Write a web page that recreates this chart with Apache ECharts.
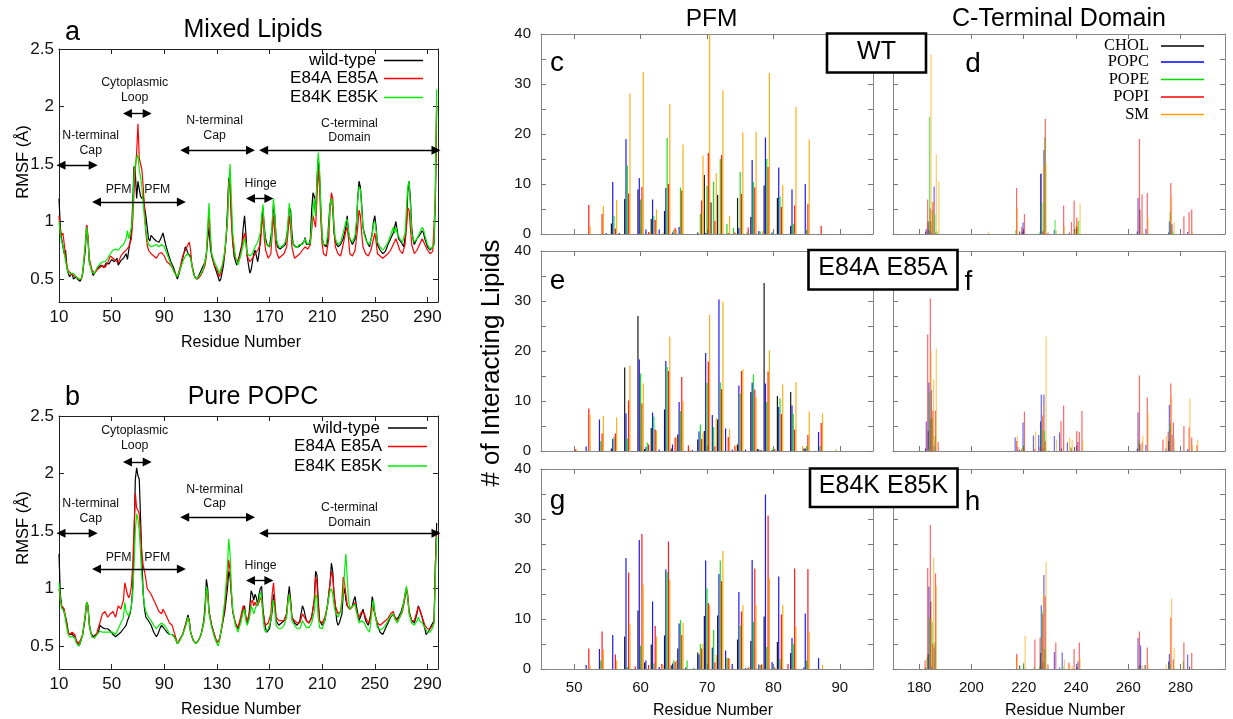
<!DOCTYPE html>
<html><head><meta charset="utf-8">
<script src="https://cdn.jsdelivr.net/npm/echarts@6/dist/echarts.min.js"></script>
<style>html,body{margin:0;padding:0;background:#fff}#c{width:1233px;height:719px}</style>
</head><body><div id="c"></div>
<script>
// ---------- labels / categories ----------
const rmsfNames = ['wild-type', 'E84A E85A', 'E84K E85K'];
const rmsfColors = ['#000000', '#ff0000', '#00ee00'];
const lipidNames = ['CHOL', 'POPC', 'POPE', 'POPI', 'SM'];
const lipidColors = ['#000000', '#0000ff', '#00dd00', '#ff0000', '#ffa500'];
const rmsfXTicks = [10, 50, 90, 130, 170, 210, 250, 290];
const rmsfYTicks = [0.5, 1, 1.5, 2, 2.5];
const pfmXTicks = [50, 60, 70, 80, 90];
const ctdXTicks = [180, 200, 220, 240, 260, 280];

// ---------- RMSF (residue, Å) : Mixed Lipids ----------
const mixedWT = [[10,1.2],[11,0.95],[12,0.85],[13,0.78],[14,0.72],[15,0.75],[16,0.6],[17,0.55],[18,0.52],[20,0.55],[21,0.5],[23,0.52],[24,0.5],[26,0.48],[27,0.5],[28,0.55],[30,0.75],[31,0.97],[32,0.85],[33,0.65],[35,0.57],[36,0.53],[38,0.57],[40,0.6],[42,0.62],[44,0.6],[46,0.64],[48,0.63],[50,0.67],[52,0.65],[54,0.68],[55,0.62],[57,0.66],[59,0.68],[61,0.72],[62,0.67],[63,0.75],[64,0.82],[65,0.9],[66,1.15],[67,1.48],[68,1.42],[69,1.2],[70,1.35],[71,1.28],[72,1.22],[73,1.2],[74,1.23],[75,1.12],[76,1.05],[77,0.95],[78,0.85],[79,0.83],[80,0.88],[82,0.85],[84,0.83],[86,0.82],[88,0.87],[89,0.9],[90,0.85],[91,0.8],[93,0.72],[95,0.65],[97,0.6],[99,0.53],[100,0.5],[102,0.58],[104,0.68],[106,0.78],[107,0.76],[108,0.72],[110,0.7],[111,0.62],[113,0.52],[115,0.5],[117,0.55],[119,0.6],[121,0.65],[122,0.72],[123,0.85],[124,0.95],[125,0.78],[126,0.7],[128,0.62],[130,0.55],[132,0.48],[133,0.5],[135,0.62],[137,0.85],[138,1.1],[139,1.38],[140,1.3],[141,1.05],[142,0.85],[143,0.7],[145,0.62],[147,0.7],[149,0.8],[150,0.95],[151,1.05],[152,0.9],[153,0.7],[154,0.62],[155,0.55],[156,0.58],[157,0.65],[158,0.72],[159,0.75],[160,0.7],[161,0.65],[162,0.72],[163,0.85],[164,1.0],[165,1.12],[166,0.95],[167,0.85],[168,0.8],[170,0.78],[172,0.95],[173,1.15],[174,1.05],[175,0.85],[176,0.78],[178,0.76],[180,0.78],[182,0.8],[184,0.95],[185,1.12],[186,1.1],[187,0.9],[188,0.8],[190,0.78],[192,0.78],[194,0.8],[196,0.82],[197,0.86],[198,0.8],[200,0.8],[201,0.85],[202,1.1],[203,1.25],[204,1.22],[205,1.05],[206,1.35],[207,1.55],[208,1.4],[209,1.1],[210,0.85],[211,0.8],[213,0.78],[214,0.82],[215,1.0],[216,1.15],[217,1.2],[218,1.12],[219,0.9],[220,0.82],[222,0.78],[224,0.8],[226,0.85],[228,0.95],[229,1.05],[230,0.9],[231,0.85],[233,0.8],[235,0.85],[236,0.95],[237,1.2],[238,1.35],[239,1.3],[240,1.15],[241,0.95],[242,0.9],[244,0.82],[246,0.78],[248,0.9],[249,1.0],[250,1.05],[251,0.95],[252,0.8],[254,0.75],[256,0.72],[258,0.74],[260,0.8],[262,0.85],[264,0.9],[265,0.95],[266,1.0],[267,0.92],[268,0.85],[270,0.82],[272,0.78],[274,0.95],[275,1.25],[276,1.35],[277,1.2],[278,0.95],[279,0.85],[280,0.8],[282,0.85],[284,0.88],[286,0.92],[287,0.9],[288,0.85],[290,0.78],[292,0.75],[294,0.78],[295,0.8],[296,1.2],[297,2.0]];
const mixedE84A = [[10,1.05],[11,0.9],[12,0.88],[13,0.9],[14,0.8],[15,0.7],[16,0.62],[17,0.57],[19,0.55],[21,0.53],[23,0.52],[25,0.5],[27,0.5],[28,0.55],[30,0.8],[31,0.97],[32,0.88],[33,0.68],[35,0.58],[37,0.55],[39,0.58],[41,0.6],[43,0.62],[45,0.6],[47,0.64],[49,0.7],[51,0.68],[53,0.66],[55,0.64],[57,0.7],[59,0.73],[61,0.75],[63,0.78],[65,0.85],[66,1.0],[67,1.25],[68,1.45],[69,1.6],[70,1.85],[71,1.55],[72,1.5],[73,1.45],[74,1.3],[75,1.1],[76,0.9],[77,0.8],[78,0.75],[80,0.72],[82,0.7],[84,0.68],[86,0.72],[88,0.73],[90,0.7],[92,0.65],[94,0.63],[96,0.6],[98,0.55],[100,0.52],[102,0.6],[104,0.7],[106,0.75],[108,0.8],[109,0.82],[110,0.75],[111,0.62],[113,0.52],[115,0.5],[117,0.52],[119,0.56],[121,0.62],[122,0.7],[123,0.9],[124,1.1],[125,0.85],[126,0.72],[128,0.62],[130,0.58],[132,0.52],[134,0.6],[136,0.72],[138,1.0],[139,1.35],[140,1.32],[141,1.0],[142,0.8],[144,0.68],[146,0.65],[148,0.72],[150,0.85],[151,0.9],[152,0.82],[153,0.7],[155,0.65],[157,0.68],[159,0.72],[161,0.75],[163,0.8],[164,0.95],[165,1.05],[166,0.85],[167,0.75],[169,0.68],[171,0.72],[172,0.9],[173,1.05],[174,0.9],[175,0.75],[177,0.68],[179,0.7],[181,0.72],[183,0.78],[184,0.9],[185,1.05],[186,0.95],[187,0.78],[189,0.68],[191,0.7],[193,0.72],[195,0.75],[197,0.78],[199,0.76],[201,0.8],[203,1.05],[204,1.0],[205,0.95],[206,1.2],[207,1.45],[208,1.3],[209,1.0],[210,0.8],[211,0.72],[213,0.7],[215,0.85],[216,1.1],[217,1.25],[218,1.2],[219,0.95],[220,0.78],[222,0.72],[224,0.7],[226,0.8],[228,0.92],[229,0.95],[230,0.85],[231,0.72],[233,0.7],[235,0.75],[237,0.95],[238,1.1],[239,1.05],[240,0.9],[241,0.78],[243,0.72],[245,0.7],[247,0.75],[249,0.85],[250,0.9],[251,0.82],[252,0.72],[254,0.7],[256,0.68],[258,0.7],[260,0.72],[262,0.75],[264,0.8],[266,0.85],[267,0.82],[269,0.75],[271,0.72],[273,0.8],[274,0.95],[275,1.12],[276,1.1],[277,0.95],[278,0.8],[280,0.72],[282,0.75],[284,0.8],[286,0.85],[288,0.8],[290,0.75],[292,0.72],[294,0.74],[295,0.75],[296,1.2],[297,2.05]];
const mixedE84K = [[10,1.0],[11,0.9],[12,0.82],[13,0.8],[14,0.72],[15,0.65],[16,0.6],[17,0.55],[19,0.55],[21,0.55],[23,0.52],[25,0.5],[27,0.5],[28,0.56],[30,0.8],[31,0.95],[32,0.85],[33,0.65],[35,0.56],[37,0.55],[39,0.6],[41,0.63],[43,0.65],[45,0.65],[47,0.68],[49,0.72],[51,0.75],[53,0.76],[55,0.75],[57,0.78],[59,0.8],[61,0.85],[62,0.92],[63,0.85],[64,0.9],[65,0.95],[66,1.05],[67,1.4],[68,1.5],[69,1.55],[70,1.58],[71,1.45],[72,1.38],[73,1.3],[74,1.15],[75,1.02],[76,0.92],[77,0.85],[78,0.8],[80,0.78],[82,0.79],[84,0.8],[86,0.78],[88,0.8],[90,0.78],[92,0.72],[94,0.66],[96,0.6],[98,0.55],[100,0.52],[102,0.58],[104,0.65],[106,0.7],[108,0.72],[110,0.68],[112,0.55],[114,0.5],[116,0.52],[118,0.55],[120,0.6],[122,0.72],[123,0.95],[124,1.16],[125,0.9],[126,0.72],[128,0.65],[130,0.6],[132,0.55],[134,0.62],[136,0.75],[138,1.0],[139,1.3],[140,1.5],[141,1.2],[142,0.9],[144,0.7],[146,0.62],[148,0.7],[150,0.8],[151,0.85],[152,0.8],[153,0.72],[155,0.7],[157,0.72],[159,0.78],[161,0.82],[163,0.9],[164,1.05],[165,1.15],[166,0.92],[167,0.82],[169,0.78],[171,0.8],[172,1.0],[173,1.2],[174,1.05],[175,0.85],[177,0.78],[179,0.78],[181,0.8],[183,0.85],[184,1.0],[185,1.16],[186,1.05],[187,0.85],[189,0.78],[191,0.78],[193,0.8],[195,0.8],[197,0.85],[199,0.8],[201,0.82],[203,1.1],[204,1.2],[205,1.05],[206,1.35],[207,1.6],[208,1.45],[209,1.1],[210,0.88],[211,0.8],[213,0.8],[215,0.95],[216,1.15],[217,1.2],[218,1.15],[219,0.95],[220,0.85],[222,0.8],[224,0.82],[226,0.9],[228,1.0],[229,1.02],[230,0.92],[231,0.85],[233,0.82],[235,0.88],[236,1.0],[237,1.2],[238,1.3],[239,1.28],[240,1.12],[241,0.95],[242,0.88],[244,0.82],[246,0.8],[248,0.88],[249,0.98],[250,1.0],[251,0.92],[252,0.82],[254,0.78],[256,0.75],[258,0.78],[260,0.82],[262,0.88],[264,0.95],[265,0.9],[266,0.95],[267,0.9],[269,0.85],[271,0.82],[273,0.9],[274,1.1],[275,1.3],[276,1.35],[277,1.15],[278,0.9],[280,0.82],[282,0.85],[284,0.9],[286,0.95],[287,0.93],[288,0.88],[290,0.8],[292,0.76],[294,0.78],[295,0.8],[296,1.3],[297,2.15]];

// ---------- RMSF : Pure POPC ----------
const popcWT = [[10,1.3],[11,0.95],[12,0.85],[13,0.83],[14,0.82],[15,0.75],[16,0.7],[17,0.62],[18,0.6],[20,0.6],[22,0.58],[23,0.55],[25,0.5],[26,0.52],[28,0.6],[30,0.75],[31,0.88],[32,0.85],[33,0.7],[34,0.62],[36,0.58],[38,0.6],[40,0.62],[41,0.68],[43,0.66],[45,0.65],[47,0.65],[49,0.63],[51,0.6],[53,0.58],[55,0.6],[57,0.62],[59,0.65],[61,0.68],[62,0.72],[63,0.75],[64,0.78],[65,0.85],[66,1.0],[67,1.4],[68,1.95],[69,2.05],[70,1.98],[71,1.95],[72,1.6],[73,1.25],[74,0.95],[75,0.82],[76,0.75],[78,0.72],[80,0.68],[82,0.62],[84,0.58],[85,0.6],[87,0.66],[88,0.68],[90,0.65],[92,0.62],[94,0.6],[96,0.6],[98,0.58],[100,0.52],[102,0.56],[104,0.6],[106,0.68],[108,0.77],[109,0.72],[110,0.62],[112,0.55],[114,0.52],[116,0.55],[118,0.6],[120,0.72],[121,0.85],[122,1.08],[123,1.0],[124,0.8],[126,0.68],[128,0.6],[130,0.53],[131,0.52],[132,0.56],[134,0.68],[136,0.8],[138,1.0],[139,1.15],[140,1.1],[141,0.95],[142,0.8],[144,0.7],[146,0.65],[148,0.72],[150,0.82],[151,0.85],[152,0.75],[153,0.7],[154,0.72],[155,0.85],[156,0.98],[157,0.95],[158,0.9],[159,0.95],[160,0.92],[161,0.85],[162,0.95],[163,1.0],[164,1.02],[165,0.82],[166,0.72],[167,0.65],[168,0.62],[170,0.65],[172,0.8],[173,0.95],[174,0.85],[175,0.72],[177,0.68],[179,0.7],[181,0.72],[183,0.78],[184,0.92],[185,1.02],[186,0.9],[187,0.75],[189,0.7],[191,0.68],[193,0.72],[195,0.85],[196,0.82],[198,0.72],[200,0.7],[202,0.75],[204,0.9],[205,1.15],[206,1.12],[207,0.9],[208,0.72],[210,0.68],[212,0.72],[214,0.85],[216,1.05],[217,1.22],[218,1.15],[219,0.95],[220,0.85],[221,0.72],[222,0.68],[223,0.7],[225,0.78],[226,0.95],[227,1.0],[228,0.9],[229,0.85],[231,0.82],[233,0.85],[234,0.9],[235,0.93],[236,0.85],[238,0.72],[240,0.78],[241,0.82],[243,0.72],[245,0.68],[247,0.78],[248,0.93],[249,0.88],[250,0.78],[252,0.68],[254,0.62],[256,0.6],[258,0.65],[260,0.7],[262,0.75],[264,0.78],[265,0.78],[266,0.73],[268,0.75],[270,0.8],[272,0.88],[273,0.95],[274,1.0],[275,0.92],[276,0.8],[278,0.72],[280,0.7],[282,0.78],[283,0.85],[284,0.82],[286,0.75],[288,0.65],[289,0.6],[291,0.63],[293,0.68],[295,0.72],[296,1.2],[297,1.57]];
const popcE84A = [[10,1.0],[11,0.9],[12,0.85],[13,0.84],[14,0.82],[15,0.75],[16,0.68],[17,0.62],[18,0.6],[20,0.62],[22,0.6],[23,0.55],[25,0.52],[26,0.52],[28,0.6],[30,0.78],[31,0.88],[32,0.85],[33,0.68],[35,0.58],[37,0.57],[39,0.62],[41,0.7],[43,0.78],[45,0.8],[47,0.75],[49,0.78],[51,0.8],[53,0.75],[55,0.85],[57,0.82],[59,0.9],[60,1.05],[61,1.0],[62,0.95],[63,0.92],[64,0.95],[65,1.02],[66,1.2],[67,1.5],[68,1.83],[69,1.7],[70,1.68],[71,1.65],[72,1.45],[73,1.3],[74,1.2],[75,1.15],[76,1.08],[77,1.0],[78,1.0],[80,0.95],[82,0.9],[84,0.85],[86,0.8],[88,0.78],[89,0.82],[90,0.8],[92,0.75],[94,0.7],[96,0.68],[98,0.6],[100,0.52],[102,0.56],[104,0.6],[106,0.68],[108,0.75],[109,0.72],[110,0.62],[112,0.55],[114,0.52],[116,0.55],[118,0.6],[120,0.7],[121,0.8],[122,1.0],[123,0.95],[124,0.8],[126,0.68],[128,0.6],[130,0.53],[131,0.52],[132,0.56],[134,0.68],[136,0.85],[138,1.1],[139,1.25],[140,1.15],[141,0.95],[142,0.8],[144,0.7],[146,0.66],[148,0.75],[150,0.85],[151,0.86],[152,0.75],[153,0.72],[155,0.8],[156,0.88],[157,0.9],[158,0.85],[159,0.88],[160,0.85],[162,0.88],[163,0.92],[164,0.9],[165,0.8],[166,0.72],[167,0.68],[169,0.7],[171,0.78],[172,0.95],[173,1.05],[174,0.9],[175,0.75],[177,0.72],[179,0.72],[181,0.72],[183,0.78],[184,0.9],[185,0.95],[186,0.88],[187,0.75],[189,0.72],[191,0.7],[193,0.7],[195,0.78],[196,0.76],[198,0.72],[200,0.7],[202,0.75],[204,0.9],[205,1.1],[206,1.05],[207,0.85],[208,0.72],[210,0.7],[212,0.75],[214,0.85],[215,0.95],[216,1.05],[217,1.15],[218,1.1],[219,0.95],[220,0.85],[222,0.78],[224,0.8],[225,0.9],[226,1.1],[227,1.05],[228,0.95],[229,0.85],[231,0.82],[233,0.84],[235,0.88],[236,0.8],[238,0.75],[240,0.8],[242,0.78],[244,0.72],[246,0.7],[248,0.85],[249,0.85],[250,0.78],[252,0.7],[254,0.68],[256,0.7],[258,0.72],[260,0.74],[262,0.78],[264,0.8],[265,0.76],[267,0.72],[269,0.75],[271,0.8],[273,0.92],[274,1.0],[275,0.95],[276,0.8],[278,0.72],[280,0.72],[282,0.8],[283,0.84],[284,0.82],[286,0.75],[288,0.68],[290,0.65],[292,0.65],[294,0.68],[295,0.7],[296,1.2],[297,1.5]];
const popcE84K = [[10,1.05],[11,0.9],[12,0.83],[13,0.82],[14,0.8],[15,0.72],[16,0.65],[17,0.6],[18,0.58],[20,0.58],[22,0.57],[23,0.53],[25,0.5],[26,0.52],[28,0.6],[30,0.78],[31,0.88],[32,0.85],[33,0.68],[35,0.58],[37,0.57],[39,0.6],[41,0.63],[43,0.62],[45,0.62],[47,0.62],[49,0.62],[51,0.62],[53,0.6],[55,0.65],[57,0.7],[59,0.75],[60,0.88],[61,0.8],[62,0.78],[63,0.76],[64,0.8],[65,0.85],[66,0.95],[67,1.2],[68,1.5],[69,1.65],[70,1.6],[71,1.5],[72,1.3],[73,1.1],[74,0.95],[75,0.85],[76,0.8],[78,0.75],[80,0.72],[82,0.68],[84,0.65],[86,0.68],[88,0.7],[90,0.68],[92,0.65],[94,0.6],[96,0.6],[98,0.57],[100,0.52],[102,0.55],[104,0.6],[106,0.66],[108,0.75],[109,0.7],[110,0.62],[112,0.55],[114,0.52],[116,0.55],[118,0.6],[120,0.7],[121,0.8],[122,1.02],[123,0.95],[124,0.78],[126,0.66],[128,0.58],[130,0.52],[131,0.5],[132,0.55],[134,0.7],[136,0.9],[138,1.2],[139,1.43],[140,1.3],[141,1.0],[142,0.82],[144,0.68],[146,0.62],[148,0.7],[150,0.8],[151,0.82],[152,0.72],[153,0.68],[155,0.76],[156,0.85],[157,0.82],[158,0.78],[159,0.82],[160,0.85],[162,0.9],[163,0.97],[164,0.92],[165,0.75],[166,0.65],[167,0.62],[169,0.65],[171,0.72],[172,0.85],[173,0.9],[174,0.8],[175,0.68],[177,0.65],[179,0.65],[181,0.68],[183,0.75],[184,0.88],[185,0.95],[186,0.85],[187,0.72],[189,0.68],[191,0.65],[193,0.65],[195,0.72],[196,0.7],[198,0.66],[200,0.66],[202,0.7],[204,0.8],[205,0.95],[206,0.92],[207,0.75],[208,0.66],[210,0.65],[212,0.72],[214,0.85],[215,0.92],[216,0.98],[217,1.0],[218,0.95],[219,0.85],[220,0.8],[222,0.75],[224,0.8],[226,0.95],[227,1.15],[228,1.3],[229,1.1],[230,0.9],[231,0.82],[233,0.85],[235,0.86],[236,0.8],[238,0.7],[240,0.72],[242,0.7],[244,0.65],[246,0.62],[248,0.82],[249,0.9],[250,0.78],[252,0.66],[254,0.64],[256,0.65],[258,0.68],[260,0.72],[262,0.76],[264,0.78],[265,0.74],[267,0.7],[269,0.75],[271,0.82],[273,0.95],[274,1.02],[275,0.92],[276,0.78],[278,0.7],[280,0.68],[282,0.72],[283,0.75],[284,0.72],[286,0.7],[288,0.66],[290,0.62],[292,0.62],[294,0.66],[295,0.7],[296,1.1],[297,1.45]];

// ---------- interacting lipids: rows [residue, CHOL, POPC, POPE, POPI, SM] ----------
const wtPFM = [[52,0,0,0,5.8,1.6],[54,0,0,0,4.0,5.6],[55,0,0.2,0,0,0],[56,2.1,10.4,3.6,1.1,6.8],[57,0,0.2,0,0,0],[58,7.0,19.0,13.7,8.1,28.1],[60,8.9,11.2,6.9,9.4,32.4],[61,0,0.9,0,0.4,0.5],[62,3.0,6.9,3.6,2.8,4.9],[63,0,0.9,0,0,0.3],[64,4.6,9.2,19.2,10.0,26.0],[65,0,0.3,0.8,1.2,0.9],[66,0,1.4,9.3,8.7,17.9],[69,0.3,0,4.1,6.7,15.7],[70,11.8,0.2,9.6,16.2,40],[71,6.3,0,10.5,2.6,12.2],[72,7.8,0,15.0,15.8,28.7],[73,0,0,2.0,0.2,3.6],[74,0,0,1.2,0.3,0],[75,7.2,1.2,12.4,8.0,20.3],[76,0,0,0.3,1.3,0],[77,3.4,14.8,10.4,9.3,20.4],[78,0,0.6,0.5,0,0.6],[79,9.7,19.3,15.0,13.4,32.2],[80,0,0.3,0.2,0,0],[81,7.2,13.3,7.5,5.4,9.8],[83,1.6,8.9,2.0,5.7,25.4],[85,0,10.0,0.9,6.0,18.9],[87,0,0,0,1.6,0]];
const e84aPFM = [[50,0,0,0,0.3,0.3],[52,0,0.9,0,8.5,7.3],[54,0,6.3,2.0,3.5,7.0],[56,0.5,2.4,2.8,3.5,6.7],[58,16.7,7.5,2.5,10.1,17.1],[60,27,18.3,15.5,9.5,13.5],[61,0.4,0.8,1.7,1.3,0],[62,4.6,7.7,6.9,4.3,4.1],[63,0,0.3,0,0,0],[64,8.3,18,16.8,16,22.9],[65,0.5,1.3,0,2.7,2.7],[66,3.3,9.8,8,14.8,10],[67,0,0,0,1.1,0.3],[68,0,0.2,0,0,0],[69,2.3,3.9,5.3,2.4,3.7],[70,4.0,19.6,13.6,17.9,27.2],[71,0,7.2,4.8,0.9,6.6],[72,6.3,30.3,13.7,12.4,29.9],[73,0,4.5,0,2.8,4.4],[74,0,0.3,0,1.0,1.3],[75,1.3,13.1,11.5,16,16.4],[76,0,0.3,0,0,0],[77,11.8,13.7,15.3,12.3,10.8],[78,0.4,0.3,0.2,0.2,0],[79,33.6,13.5,9.8,15.9,20.1],[80,0,0.2,0.7,0.4,0],[81,11,8.8,10.5,7.4,13.3],[83,11.8,9.1,7.4,4.3,13.8],[84,0,0,0,0,1.0],[85,0.5,0.5,1.0,3.2,7.9],[87,0,3.8,1.0,5.6,7.5],[89,0,0,0,0,0.3]];
const e84kPFM = [[52,0,0.8,0,4.1,0.6],[54,0,4.0,1.7,7.5,3.9],[56,0,6.8,0,2.9,1.7],[58,6.5,22.2,0.4,19.3,8.9],[59,0,0,0,0.5,0],[60,11.7,25.8,4.7,27,16.9],[61,1.3,1.7,0,0.8,0],[62,4.9,13.5,1.1,8.6,6.5],[63,0,0.4,0,1.0,0.8],[64,6.7,19.9,19.4,25.5,17.8],[65,0.7,1.1,1.7,1.4,1.7],[66,4.1,9.1,9.8,6.8,9.2],[67,0,0.3,1.7,0,0],[68,0,0,0.2,0,0],[69,3.3,2.9,5.0,4.1,5.1],[70,10.6,21.7,16.1,13.2,12.8],[71,0,4.3,7.8,1.3,2.8],[72,10.7,19,21.7,17.6,23.6],[73,0,3.7,2.2,2.2,2.0],[74,0,1.0,0,0,0],[75,5.9,15.4,8.7,11.5,12.8],[76,0,0.2,0,0.3,0.3],[77,5.6,21.8,9.5,20.1,12.8],[78,0,0.9,0.8,0.9,0.9],[79,10.5,34.9,4.4,30.7,18.1],[80,0,1.4,0.3,0.3,0],[81,5.4,18.5,2.0,10.9,12.8],[82,0,0,0,1.0,0],[83,3.2,6.2,5.0,20.1,8.5],[85,0.3,11.1,1.7,20,7.3],[87,0,2.2,0,0,0.8]];
const wtCTD = [[183,0.5,1.0,0,6.9,0],[184,2.5,0.7,23.4,5.1,35.9],[185,2.5,0.3,4.8,6.4,6.5],[186,0,9.5,3.9,0.3,15.9],[187,0,0,0.5,0,10.5],[206,0,0,0,0,0.5],[217,0,0,0.8,9.2,5.2],[219,0.5,0,0,1.4,0],[220,0.5,2.3,0,4.0,0],[226,0,0,0.3,0,0],[227,12,12.1,6.2,0.5,13.5],[228,0.5,16.8,19.3,23,14.3],[229,0,0,0,0.3,0],[232,0,0.8,2.8,0,0.7],[235,0,0,0,5.7,1.5],[238,0.3,0,0,2.4,0],[239,0,0,0,6.7,0.5],[240,1.0,0,1.5,3.3,2.5],[241,1.5,0,2.7,0,6.1],[264,0.5,7.2,0,19,0],[265,4.9,0,0,7.9,0.5],[267,0,1.0,0,8.2,3.3],[276,0.3,2.5,4.3,10.2,7.6],[277,1.8,2.0,0.5,0,2.3],[281,0,0,0,3.5,0],[283,0,0.4,0,4.4,0],[284,0,0,0,4.9,0.4]];
const e84aCTD = [[183,0.5,5.9,0,23.3,0.3],[184,4.0,13.7,11.7,30.5,20],[185,6.5,12.2,6.5,8.1,14.3],[186,0,1.0,3.0,8.1,20.5],[187,0,0,0,1.8,0],[217,0,2.7,0,2.0,3.0],[218,0,0.8,0,0,0],[219,0.3,0,0,0.5,0.7],[220,0,5.7,1.2,7.9,0],[224,0,3.1,0,0.4,3.9],[226,0,3.2,0,0.8,0],[227,5.9,11.3,4.3,7.1,9.3],[228,0.5,11.3,4.0,2.0,22.9],[229,0,0,0,0,0.2],[232,0,3.0,0,0,2.3],[234,0,3.7,0,6.0,0],[235,0.5,0,0,9.1,0],[237,0,1.7,0,0,2.7],[238,0,0,0.8,0.5,2.3],[240,0.8,0,0,4.0,0],[241,0,1.8,0,3.8,0],[242,0,0,0,8.0,2.0],[264,0.5,7.7,2.1,15.1,0],[265,1.3,0,0,1.7,3.1],[267,0,1.2,0,10.7,7.6],[273,0,0,0,2.3,0],[274,0,0,0,0,3.0],[275,0.5,0,0,3.9,0],[276,2.0,9.2,5.5,13.5,11.1],[277,0,3.2,0,5.7,2.5],[281,0,0,0,5.0,0],[283,0,0.4,0,4.7,10.5],[284,0,0,0,2.7,1.2],[286,0,0,0,1.2,2.2]];
const e84kCTD = [[182,0,0,0,1.7,0],[183,0.3,0,2.3,20.2,0],[184,3.0,16.5,10.3,28.8,10.2],[185,13.5,0.5,9.5,5,22.3],[186,0,4.3,5.3,19.1,16.7],[217,0,0,0,3.0,2.7],[219,0.7,0,0,0,0],[220,0,0,1.3,0,6.7],[224,0,0,0.5,5.9,0],[226,0,0,0.5,6.3,0],[227,3.2,12.7,11.7,11,15],[228,1.3,18.8,4,14.5,21.5],[229,0,0,0,0.9,0],[232,0,3.4,0,5.3,0],[234,0,0.3,0,0,0],[235,0,3.3,0.5,0,1.9],[237,0,0,0,1.3,0.9],[238,0,0,0,0,0.6],[239,0,0,0,4.0,0],[241,0.3,1.5,0,5.3,2.3],[264,0,6.2,0.5,7.5,0],[265,0.8,4.7,0,0,0.7],[267,0.8,0,0,4.3,1.1],[274,0,0,0,0,0.9],[276,1.5,3.0,1.0,10.3,14.1],[277,0,0,0,1.9,4.3],[281,0,0,1.5,5.3,0],[283,0,2.9,0,0,0],[284,0.5,0,0,3.2,0]];

// ---------- annotations (text, residue, RMSF) and arrows (from, to, RMSF) ----------
const annotMixed = [['Cytoplasmic\nLoop',67.5,2.14],['N-terminal\nCap',34.1,1.68],['PFM',55.3,1.28],['PFM',84.7,1.28],['N-terminal\nCap',128.2,1.81],['C-terminal\nDomain',230.7,1.79],['Hinge',163.2,1.33]];
const arrowsMixed = [[62,77,1.94],[11.5,36,1.49],[38.5,103,1.17],[105.5,155.5,1.62],[165.5,296.5,1.62],[155.5,169.5,1.2]];
const annotPopc = [['Cytoplasmic\nLoop',67.5,2.31],['N-terminal\nCap',34.1,1.67],['PFM',55.3,1.27],['PFM',84.7,1.27],['N-terminal\nCap',128.2,1.8],['C-terminal\nDomain',230.7,1.64],['Hinge',163.2,1.2]];
const arrowsPopc = [[62,77,2.1],[11.5,36,1.48],[38.5,103,1.17],[105.5,155.5,1.62],[165.5,296.5,1.48],[155.5,169.5,1.07]];

// ---------- build ----------
const SANS = '"Liberation Sans", Arial, Helvetica, sans-serif';
const SERIF = '"Liberation Serif", "Times New Roman", serif';
const chart = echarts.init(document.getElementById('c'), null, {renderer: 'canvas', width: 1233, height: 719});
const option = {animation: false, backgroundColor: '#ffffff', grid: [], xAxis: [], yAxis: [], series: [], graphic: []};

function addPanel(p) {
  const gi = option.grid.length;
  option.grid.push({left: p.left, top: p.top, width: p.width, height: p.height, show: false});
  const xi = option.xAxis.length, yi = option.yAxis.length;
  const ls = {color: p.frame, width: 1};
  const ts = {color: p.tick, width: 1};
  const mkX = (pos, lab) => ({
    type: 'value', gridIndex: gi, position: pos, min: p.xMin, max: p.xMax,
    axisLine: {show: true, onZero: false, lineStyle: ls},
    axisTick: {show: true, inside: true, length: 5, lineStyle: ts, customValues: p.xTicks},
    axisLabel: {show: lab, customValues: p.xTicks, margin: p.xMargin, fontSize: p.fs, color: '#111', fontFamily: SANS},
    splitLine: {show: false}
  });
  option.xAxis.push(mkX('bottom', p.xLabels), mkX('top', false));
  const mkY = (pos, lab) => {
    const a = {
      type: 'value', gridIndex: gi, position: pos, min: p.yMin, max: p.yMax,
      axisLine: {show: true, onZero: false, lineStyle: ls},
      axisTick: {show: true, inside: true, length: 5, lineStyle: ts},
      axisLabel: {show: lab, margin: p.yMargin, fontSize: p.fs, color: '#111', fontFamily: SANS},
      splitLine: {show: false}
    };
    if (p.yTicks) { a.axisTick.customValues = p.yTicks; a.axisLabel.customValues = p.yTicks; }
    else { a.interval = p.yInterval; a.axisLabel.formatter = v => (v % p.yLabelStep === 0 ? String(v) : ''); }
    return a;
  };
  option.yAxis.push(mkY('left', p.yLabels), mkY('right', false));
  return {xi, yi};
}

function addRmsf(top, lines, arrows) {
  const ax = addPanel({left: 59, top: top, width: 379, height: 253, xMin: 10, xMax: 298, xTicks: rmsfXTicks,
    yMin: 0.3, yMax: 2.5, yTicks: rmsfYTicks, xLabels: true, yLabels: true, frame: '#222', tick: '#222',
    fs: 17, xMargin: 7, yMargin: 5});
  lines.forEach((d, k) => {
    const s = {type: 'line', name: rmsfNames[k], xAxisIndex: ax.xi, yAxisIndex: ax.yi, data: d,
      symbol: 'none', showSymbol: false, silent: true, z: 2 + k,
      lineStyle: {color: rmsfColors[k], width: 1.2}, itemStyle: {color: rmsfColors[k]}};
    if (k === 0) {
      s.markLine = {silent: true, symbol: ['triangle', 'triangle'], symbolSize: 9, animation: false,
        lineStyle: {color: '#000', width: 1.4, type: 'solid'}, label: {show: false},
        data: arrows.map(a => [{coord: [a[0], a[2]]}, {coord: [a[1], a[2]]}])};
    }
    option.series.push(s);
  });
  return ax;
}

function addBars(p, rows) {
  const ax = addPanel(Object.assign({width: 332, height: 200, yMin: 0, yMax: 40, yInterval: 5, yLabelStep: 10,
    frame: '#888', tick: '#777', fs: 15, xMargin: 11, yMargin: 10}, p));
  lipidNames.forEach((n, k) => {
    option.series.push({type: 'bar', name: n, xAxisIndex: ax.xi, yAxisIndex: ax.yi, silent: true,
      data: rows.filter(r => r[k + 1] > 0).map(r => [r[0], r[k + 1]]),
      barWidth: p.bw, barGap: p.gap,
      itemStyle: {color: lipidColors[k], opacity: p.op}});
  });
  return ax;
}

const axA = addRmsf(49, [mixedWT, mixedE84A, mixedE84K], arrowsMixed);
const axB = addRmsf(416, [popcWT, popcE84A, popcE84K], arrowsPopc);
const pfmCfg = {left: 541, xMin: 45, xMax: 95, xTicks: pfmXTicks, bw: 1.2, gap: '10%', op: 0.9};
const ctdCfg = {left: 893, xMin: 170, xMax: 297, xTicks: ctdXTicks, bw: 1.2, gap: '-40%', op: 0.6};
addBars(Object.assign({}, pfmCfg, {top: 34, xLabels: false, yLabels: true}), wtPFM);
addBars(Object.assign({}, ctdCfg, {top: 34, xLabels: false, yLabels: false}), wtCTD);
addBars(Object.assign({}, pfmCfg, {top: 251, xLabels: false, yLabels: true}), e84aPFM);
addBars(Object.assign({}, ctdCfg, {top: 251, xLabels: false, yLabels: false}), e84aCTD);
addBars(Object.assign({}, pfmCfg, {top: 469, xLabels: true, yLabels: true}), e84kPFM);
addBars(Object.assign({}, ctdCfg, {top: 469, xLabels: true, yLabels: false}), e84kCTD);

// ---------- static text / legends / boxes ----------
const G = option.graphic;
function txt(x, y, text, size, opts) {
  const o = Object.assign({align: 'center', family: SANS, color: '#000', rot: 0, lh: null}, opts || {});
  const st = {text: text, fill: o.color, fontSize: size, fontFamily: o.family, align: o.align, verticalAlign: 'middle'};
  if (o.lh) st.lineHeight = o.lh;
  G.push({type: 'text', x: x, y: y, rotation: o.rot, z: 100, silent: true, style: st});
}
function seg(x1, y1, x2, y2, color, w) {
  G.push({type: 'line', z: 100, silent: true, shape: {x1: x1, y1: y1, x2: x2, y2: y2}, style: {stroke: color, lineWidth: w}});
}
function box(x, y, w, h, label, cx, cy) {
  G.push({type: 'rect', z: 110, silent: true, shape: {x: x, y: y, width: w, height: h}, style: {fill: '#fff', stroke: '#000', lineWidth: 2.6}});
  G.push({type: 'text', x: cx, y: cy, z: 111, silent: true, style: {text: label, fill: '#000', fontSize: 25, fontFamily: SANS, align: 'center', verticalAlign: 'middle'}});
}

txt(72.5, 32.5, 'a', 27); txt(253, 30.5, 'Mixed Lipids', 25);
txt(72.5, 397.5, 'b', 27); txt(253, 397, 'Pure POPC', 25);
txt(23, 162, 'RMSF (Å)', 16.5, {rot: Math.PI / 2});
txt(23, 528, 'RMSF (Å)', 16.5, {rot: Math.PI / 2});
txt(241, 343, 'Residue Number', 16); txt(241, 710, 'Residue Number', 16);
txt(713, 711, 'Residue Number', 16); txt(1065, 711, 'Residue Number', 16);
txt(711.5, 19.5, 'PFM', 24.5); txt(1059, 19.5, 'C-Terminal Domain', 25);
txt(491.5, 363, '# of Interacting Lipids', 26, {rot: Math.PI / 2});
txt(557, 63.5, 'c', 28); txt(973, 64, 'd', 28);
txt(557.5, 281.5, 'e', 28); txt(968.5, 282, 'f', 28);
txt(557.5, 501.5, 'g', 28); txt(972.5, 502, 'h', 28);

[[60.5, 376], [78.5, 378], [97.5, 378]].forEach((r, k) => {
  txt(r[1], r[0], rmsfNames[k], 17, {align: 'right'});
  seg(384, r[0], 423, r[0], rmsfColors[k], 1.4);
});
[[428, 380], [446.5, 382], [466, 382]].forEach((r, k) => {
  txt(r[1], r[0], rmsfNames[k], 17, {align: 'right'});
  seg(388, r[0], 427, r[0], rmsfColors[k], 1.4);
});
[46, 62, 79.5, 97, 114.5].forEach((y, k) => {
  txt(1149, y, lipidNames[k], 16.5, {align: 'right', family: SERIF});
  seg(1161, y, 1204, y, lipidColors[k], 1.4);
});

box(827, 33.5, 99, 39, 'WT', 876.5, 52);
box(808.5, 250, 149, 39.5, 'E84A E85A', 883, 268);
box(810, 468.5, 147.5, 38.5, 'E84K E85K', 883.5, 486.5);

chart.setOption(option);

// annotation labels positioned in data coordinates of the RMSF panels
function annot(ax, list) {
  list.forEach(a => {
    const p = chart.convertToPixel({xAxisIndex: ax.xi, yAxisIndex: ax.yi}, [a[1], a[2]]);
    txt(p[0], p[1], a[0], 12.3, {lh: 14.7, color: '#111'});
  });
}
annot(axA, annotMixed);
annot(axB, annotPopc);
chart.setOption({graphic: option.graphic});
</script></body></html>
